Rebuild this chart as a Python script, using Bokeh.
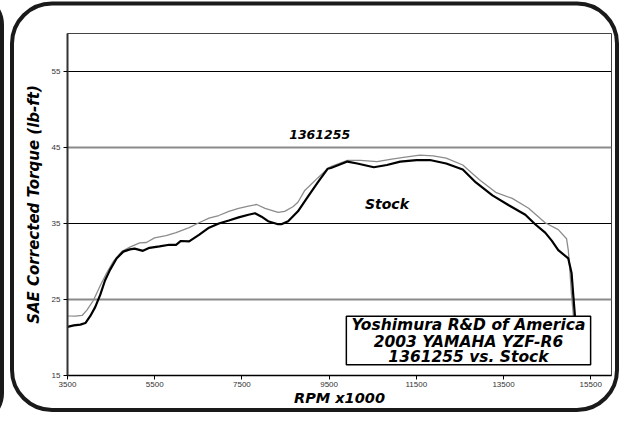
from urllib.parse import quote
from bokeh.plotting import figure
from bokeh.models import FixedTicker, Grid, BoxAnnotation, Label, Range1d
from bokeh.embed import file_html
from bokeh.resources import INLINE

# 1361255 (gray) series
rpm_1361255 = [3400, 3500, 3680, 3835, 3945, 4095, 4250, 4400, 4550, 4740, 4930, 5155,
               5310, 5495, 5760, 5990, 6290, 6515, 6745, 6970, 7200, 7425, 7650, 7840,
               8030, 8330, 8480, 8670, 8785, 8935, 9240, 9465, 9540, 9920, 10220, 10600,
               10900, 11205, 11580, 11885, 12185, 12565, 12940, 13320, 13700, 14075,
               14455, 14755, 14945, 14985, 15020, 15060, 15100, 15120]
torque_1361255 = [23.0, 22.85, 22.8, 22.9, 23.6, 24.9, 26.8, 28.5, 30.0, 31.3, 31.9, 32.45,
                  32.5, 33.1, 33.4, 33.8, 34.45, 35.1, 35.7, 36.05, 36.6, 37.0, 37.3, 37.5,
                  37.0, 36.45, 36.6, 37.2, 37.8, 39.3, 41.0, 42.2, 42.5, 43.3, 43.3, 43.15,
                  43.45, 43.7, 44.0, 43.9, 43.6, 42.7, 40.8, 39.1, 38.3, 37.0,
                  35.1, 34.2, 33.0, 31.5, 28.9, 25.5, 23.0, 21.0]

# Stock (black) series
rpm_stock = [3400, 3500, 3645, 3795, 3910, 4020, 4135, 4250, 4360, 4475, 4625, 4780, 4930,
             5040, 5230, 5380, 5610, 5835, 5990, 6100, 6290, 6515, 6745, 6970, 7200, 7425,
             7650, 7800, 7950, 8100, 8330, 8405, 8560, 8785, 9010, 9240, 9465, 9540, 9920,
             10145, 10525, 10825, 11130, 11505, 11810, 12185, 12565, 12865, 13245, 13620,
             14000, 14225, 14455, 14605, 14755, 14985, 15060, 15100, 15135, 15160]
torque_stock = [20.6, 21.4, 21.6, 21.7, 21.9, 22.8, 24.0, 25.6, 27.5, 28.9, 30.4, 31.3, 31.6,
                31.7, 31.4, 31.8, 32.0, 32.2, 32.2, 32.7, 32.65, 33.5, 34.45, 35.0, 35.4, 35.8,
                36.15, 36.35, 35.9, 35.3, 34.9, 34.9, 35.3, 36.6, 38.5, 40.4, 42.2, 42.3, 43.15,
                42.9, 42.4, 42.7, 43.15, 43.35, 43.35, 42.9, 42.1, 40.4, 38.7, 37.4,
                36.15, 34.9, 33.8, 32.75, 31.5, 30.4, 28.5, 25.5, 23.0, 20.0]

x_ticks = [3500, 5500, 7500, 9500, 11500, 13500, 15500]
y_ticks_black = [35, 55]
y_ticks_gray = [25, 45]
y_ticks = [15, 25, 35, 45, 55]

x_title = "RPM x1000"
y_title = "SAE Corrected Torque (lb-ft)"
series_labels = ["1361255", "Stock"]
box_lines = ["Yoshimura R&D of America", "2003 YAMAHA YZF-R6", "1361255 vs. Stock"]

TITLE_FONT = "DejaVu Sans"
W, H = 621, 412

p = figure(width=W, height=H, output_backend="svg", toolbar_location=None,
           x_range=Range1d(3500, 15976), y_range=Range1d(15, 60),
           min_border_left=67, min_border_right=10, min_border_top=33, min_border_bottom=37)

# decorative rounded frame (and the edge of the neighbouring panel) painted behind the canvas
frame_svg = (
    f"<svg xmlns='http://www.w3.org/2000/svg' width='{W}' height='{H}'>"
    f"<rect x='12' y='3.5' width='{W - 16}' height='406.5' rx='40' ry='40' "
    "fill='none' stroke='#1a1a1a' stroke-width='4'/>"
    "<rect x='-60' y='-5' width='62' height='428' rx='30' ry='30' "
    "fill='none' stroke='#1a1a1a' stroke-width='4'/>"
    "</svg>"
)
p.styles = {
    "background-image": f'url("data:image/svg+xml,{quote(frame_svg)}")',
    "background-repeat": "no-repeat",
    "background-color": "white",
}

p.background_fill_color = "white"
p.border_fill_color = None
p.outline_line_color = "#444444"
p.outline_line_width = 1

p.xgrid.visible = False
p.ygrid.ticker = FixedTicker(ticks=y_ticks_black)
p.ygrid.grid_line_color = "black"
p.ygrid.grid_line_width = 1
g2 = Grid(dimension=1, ticker=FixedTicker(ticks=y_ticks_gray),
          grid_line_color="#8a8a8a", grid_line_width=2)
p.add_layout(g2)

p.xaxis.ticker = FixedTicker(ticks=x_ticks)
p.yaxis.ticker = FixedTicker(ticks=y_ticks)
for ax in (p.xaxis, p.yaxis):
    ax.minor_tick_line_color = None
    ax.major_tick_in = 0
    ax.major_tick_out = 4
    ax.major_label_text_font = "Liberation Sans"
    ax.major_label_text_font_size = "8px"
    ax.major_label_text_color = "#333333"
    ax.axis_label_text_font = TITLE_FONT
    ax.axis_label_text_font_style = "bold italic"
    ax.axis_label_text_font_size = "15px"
    ax.axis_label_text_color = "black"

p.xaxis.axis_label = x_title
p.xaxis.axis_label_text_font_size = "14.5px"
p.yaxis.axis_label = y_title
p.xaxis.axis_line_color = "black"
p.xaxis.axis_line_width = 1.5
p.yaxis.axis_line_color = "#333333"
p.yaxis.axis_line_width = 2
p.xaxis.major_label_standoff = 2
p.yaxis.major_label_standoff = 3
p.xaxis.axis_label_standoff = 0
p.yaxis.axis_label_standoff = 6

p.line(rpm_1361255, torque_1361255, line_color="#8c8c8c", line_width=1.3)
p.line(rpm_stock, torque_stock, line_color="black", line_width=2.2)

p.add_layout(Label(x=9283, y=46.7, text=series_labels[0], text_font=TITLE_FONT,
                   text_font_style="bold italic", text_font_size="12.5px", text_color="black",
                   text_align="center", text_baseline="middle"))
p.add_layout(Label(x=10826, y=37.55, text=series_labels[1], text_font=TITLE_FONT,
                   text_font_style="bold italic", text_font_size="14px", text_color="black",
                   text_align="center", text_baseline="middle"))

p.add_layout(BoxAnnotation(left=9895, right=15497, bottom=16.4, top=22.8,
                           fill_color="white", fill_alpha=1.0,
                           line_color="black", line_alpha=1.0, line_width=1.5))
for txt, yy in zip(box_lines, [21.6, 19.45, 17.4]):
    p.add_layout(Label(x=12696, y=yy, text=txt, text_font=TITLE_FONT,
                       text_font_style="bold italic", text_font_size="15.5px", text_color="black",
                       text_align="center", text_baseline="middle"))

open("out.html", "w").write(file_html(p, INLINE))
